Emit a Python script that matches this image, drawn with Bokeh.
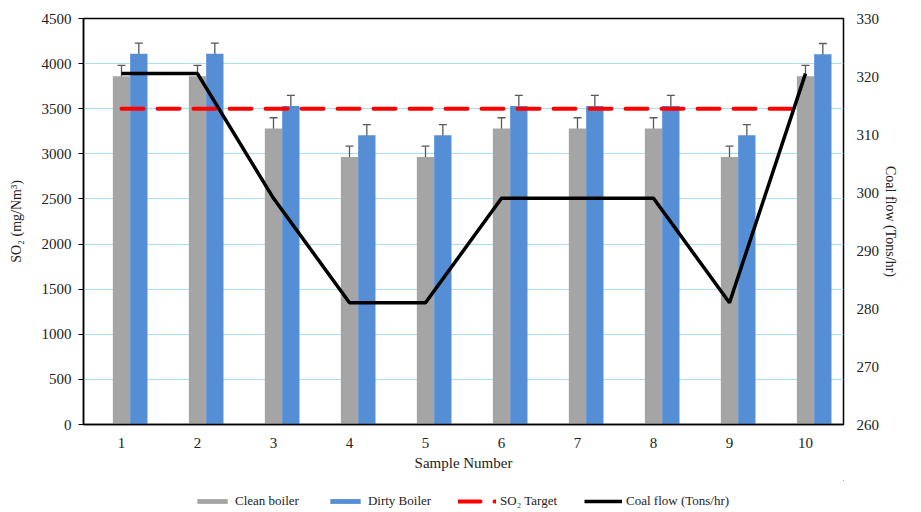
from bokeh.plotting import figure
from bokeh.models import (Range1d, LinearAxis, FixedTicker, Whisker, TeeHead,
                          ColumnDataSource, Legend, LegendItem)
from bokeh.layouts import column
from bokeh.embed import file_html
from bokeh.resources import INLINE

# ---- data ----
samples = [1, 2, 3, 4, 5, 6, 7, 8, 9, 10]
clean_boiler = [3860, 3860, 3280, 2965, 2965, 3280, 3280, 3280, 2965, 3860]
dirty_boiler = [4110, 4110, 3530, 3205, 3205, 3530, 3530, 3530, 3205, 4105]
clean_err = [120, 120, 120, 120, 120, 120, 120, 120, 120, 120]
dirty_err = [118, 118, 118, 118, 118, 118, 118, 118, 118, 118]
so2_target = [3500, 3500, 3500, 3500, 3500, 3500, 3500, 3500, 3500, 3500]
coal_flow = [320.5, 320.5, 299, 281, 281, 299, 299, 299, 281, 320.5]
left_ticks = [0, 500, 1000, 1500, 2000, 2500, 3000, 3500, 4000, 4500]
right_ticks = [260, 270, 280, 290, 300, 310, 320, 330]

FONT = "Liberation Serif"
TXT = "#222222"
BAR_W = 0.228
GRAY, BLUE, RED = "#a5a5a5", "#558ed5", "#ff0000"

clean_src = ColumnDataSource(dict(x=samples, top=clean_boiler,
                                  upper=[v + e for v, e in zip(clean_boiler, clean_err)],
                                  lower=[v - e for v, e in zip(clean_boiler, clean_err)]))
dirty_src = ColumnDataSource(dict(x=[s + BAR_W for s in samples], top=dirty_boiler,
                                  upper=[v + e for v, e in zip(dirty_boiler, dirty_err)],
                                  lower=[v - e for v, e in zip(dirty_boiler, dirty_err)]))

p = figure(width=913, height=480, output_backend="svg", toolbar_location=None,
           x_range=Range1d(0.5, 10.5), y_range=Range1d(0, 4500),
           min_border_left=83, min_border_right=70, min_border_top=18,
           min_border_bottom=56)
p.extra_y_ranges = {"coal": Range1d(260, 330)}

p.outline_line_color = "black"
p.outline_line_width = 1.5
p.outline_line_alpha = 1.0
p.background_fill_color = "white"
p.border_fill_color = "white"

# grid
p.xgrid.grid_line_color = None
p.ygrid.grid_line_color = "#a8e1f5"
p.ygrid.grid_line_width = 1.2
p.ygrid.ticker = FixedTicker(ticks=left_ticks)

# bars
p.vbar(x="x", top="top", width=BAR_W, source=clean_src, fill_color=GRAY, line_color=None)
p.vbar(x="x", top="top", width=BAR_W, source=dirty_src, fill_color=BLUE, line_color=None)

for src in (clean_src, dirty_src):
    w = Whisker(base="x", upper="upper", lower="lower", source=src,
                line_color="#595959", line_width=1.3,
                upper_head=TeeHead(size=8, line_color="#595959", line_width=1.3),
                lower_head=TeeHead(size=8, line_color="#595959", line_width=1.3))
    p.add_layout(w)

# target line
p.line(samples, so2_target, line_color=RED, line_width=4,
       line_dash="22 14", line_cap="round")
# coal flow
p.line(samples, coal_flow, line_color="black", line_width=3.5, y_range_name="coal")

# axes
xa = p.xaxis[0]
xa.ticker = FixedTicker(ticks=samples)
xa.axis_label = "Sample Number"
xa.major_tick_line_color = None
xa.minor_tick_line_color = None
xa.axis_line_color = "black"
xa.axis_line_width = 1.5
xa.major_label_standoff = 7
xa.axis_label_standoff = 4

ya = p.yaxis[0]
ya.ticker = FixedTicker(ticks=left_ticks)
ya.axis_label = "SO₂ (mg/Nm³)"
ya.minor_tick_line_color = None
ya.major_tick_out = 5
ya.major_tick_in = 0
ya.major_tick_line_color = "black"
ya.axis_line_color = "black"
ya.axis_line_width = 1.5
ya.major_label_standoff = 7
ya.axis_label_standoff = 15

ra = LinearAxis(y_range_name="coal", ticker=FixedTicker(ticks=right_ticks),
                axis_label="Coal flow (Tons/hr)")
ra.minor_tick_line_color = None
ra.major_tick_line_color = None
ra.axis_line_color = None
ra.major_label_standoff = 7
ra.axis_label_standoff = 1
p.add_layout(ra, "right")

for ax in (xa, ya, ra):
    ax.major_label_text_font = FONT
    ax.major_label_text_font_size = "15px"
    ax.major_label_text_color = TXT
    ax.axis_label_text_font = FONT
    ax.axis_label_text_font_size = "14px"
    ax.axis_label_text_font_style = "normal"
    ax.axis_label_text_color = TXT
xa.axis_label_text_font_size = "15px"

# ---- legend strip (separate figure below the chart; its ranges hide the marks) ----
lg = figure(width=913, height=32, output_backend="svg", toolbar_location=None,
            x_range=Range1d(-20, -19), y_range=Range1d(-20, -19),
            min_border_left=83, min_border_right=70, min_border_top=0, min_border_bottom=0)
lg.axis.visible = False
lg.grid.grid_line_color = None
lg.outline_line_color = None
lg.background_fill_color = "white"
lg.border_fill_color = "white"
l_clean = lg.vbar(x="x", top="top", width=BAR_W, source=clean_src,
                  fill_color=GRAY, line_color=None)
l_dirty = lg.vbar(x="x", top="top", width=BAR_W, source=dirty_src,
                  fill_color=BLUE, line_color=None)
l_target = lg.line(samples, so2_target, line_color=RED, line_width=4,
                   line_dash="22 14", line_cap="round")
l_coal = lg.line(samples, coal_flow, line_color="black", line_width=3.5)

legend = Legend(items=[
    LegendItem(label="Clean boiler", renderers=[l_clean]),
    LegendItem(label="Dirty Boiler", renderers=[l_dirty]),
    LegendItem(label="SO₂ Target", renderers=[l_target]),
    LegendItem(label="Coal flow (Tons/hr)", renderers=[l_coal]),
], orientation="horizontal", location=(110, 3))
legend.border_line_color = None
legend.background_fill_alpha = 0
legend.padding = 0
legend.margin = 0
legend.spacing = 27
legend.glyph_width = 38
legend.glyph_height = 6
legend.label_height = 15
legend.label_standoff = 4
legend.label_text_font = FONT
legend.label_text_font_size = "13px"
legend.label_text_color = TXT
lg.add_layout(legend, "center")

layout = column(p, lg, spacing=0)
open("out.html", "w").write(file_html(layout, INLINE))
